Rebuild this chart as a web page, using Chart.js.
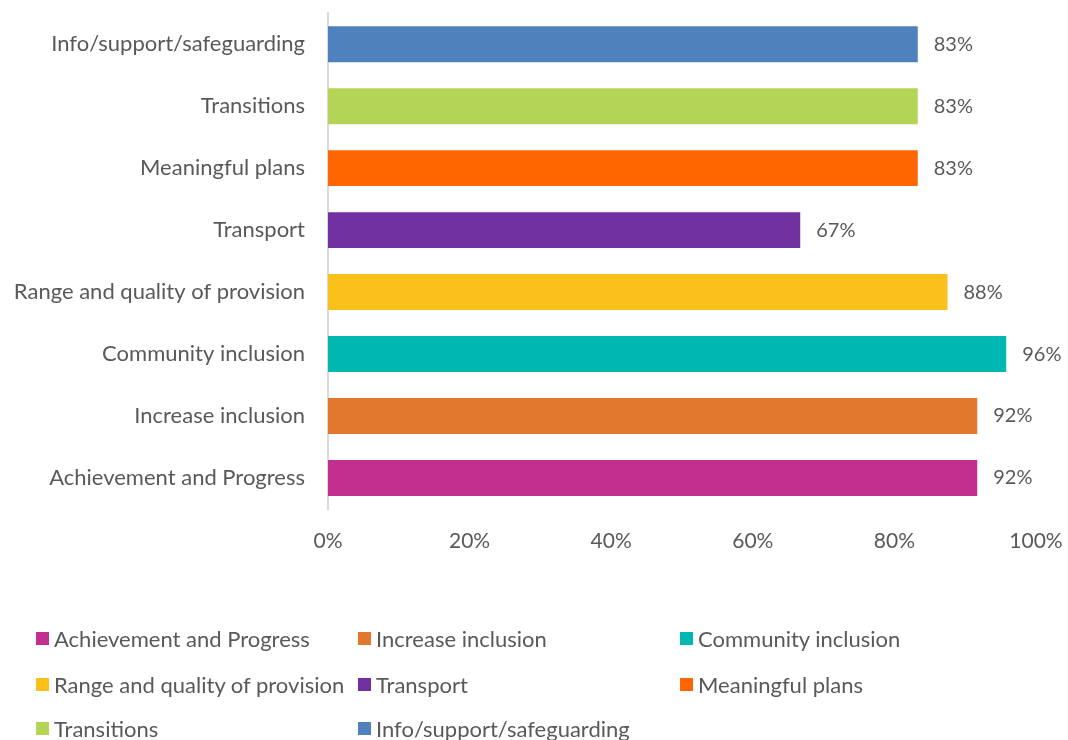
<!DOCTYPE html>
<html>
<head>
<meta charset="utf-8">
<script src="https://cdn.jsdelivr.net/npm/chart.js@4"></script>
<style>
  html, body { margin: 0; padding: 0; background: #fff; }
  #wrap { position: relative; width: 1068px; height: 740px; overflow: hidden; }
  #chartBox { position: absolute; left: 0; top: 0; width: 1068px; height: 570px; }
  #legend { position: absolute; left: 0; top: 0; width: 1068px; height: 740px; pointer-events: none;
            font-family: Lato, sans-serif; font-size: 22px; color: #595959; }
  .item { position: absolute; display: flex; align-items: center; white-space: nowrap; height: 26px; }
  .box { width: 13px; height: 13px; margin-right: 5px; }
</style>
</head>
<body>
<div id="wrap">
  <div id="chartBox"><canvas id="barChart"></canvas></div>
  <div id="legend"></div>
</div>
<script>
var categories = ["Achievement and Progress", "Increase inclusion", "Community inclusion",
    "Range and quality of provision", "Transport", "Meaningful plans", "Transitions",
    "Info/support/safeguarding"];
var values = [91.7, 91.7, 95.8, 87.5, 66.7, 83.3, 83.3, 83.3];
var colors = ["#c32f8f", "#e1782e", "#00b7b2", "#f8c018", "#7030a0", "#ff6600", "#b4d455", "#4f81bd"];
var xTicks = [0, 20, 40, 60, 80, 100];

var textColor = "#595959";
var font = "Lato";

var valueLabels = {
    id: "valueLabels",
    afterDatasetsDraw: function(chart) {
        var ctx = chart.ctx;
        var meta = chart.getDatasetMeta(0);
        ctx.save();
        ctx.font = "20px " + font;
        ctx.fillStyle = textColor;
        ctx.textAlign = "left";
        ctx.textBaseline = "middle";
        meta.data.forEach(function(bar, i) {
            ctx.fillText(Math.round(values[i]) + "%", bar.x + 16, bar.y);
        });
        ctx.restore();
    }
};

var ctx1 = document.getElementById("barChart").getContext("2d");
var myChart = new Chart(ctx1, {
    type: "bar",
    data: {
        labels: categories,
        datasets: [{
            data: values,
            backgroundColor: colors,
            borderWidth: 0,
            categoryPercentage: 1,
            barPercentage: 0.58
        }]
    },
    plugins: [valueLabels],
    options: {
        indexAxis: "y",
        responsive: true,
        maintainAspectRatio: false,
        animation: false,
        layout: { padding: { top: 12, right: 32, left: 0, bottom: 0 } },
        plugins: {
            legend: { display: false },
            tooltip: { enabled: false }
        },
        scales: {
            y: {
                reverse: true,
                afterFit: function(axis) { axis.width = 328; },
                // invisible tick marks give the label gap without adding edge padding
                grid: { display: false, drawTicks: true, tickLength: 23 },
                border: { display: true, color: "#d9d9d9", width: 2 },
                ticks: { color: textColor, padding: 0, font: { family: font, size: 22 } }
            },
            x: {
                min: 0,
                max: 100,
                afterBuildTicks: function(axis) {
                    axis.ticks = xTicks.map(function(v) { return { value: v }; });
                },
                afterFit: function(axis) { axis.height = 61; },
                grid: { display: false, drawTicks: true, tickLength: 20 },
                border: { display: false },
                ticks: {
                    color: textColor,
                    padding: 0,
                    maxRotation: 0,
                    font: { family: font, size: 21 },
                    callback: function(value) { return value + "%"; }
                }
            }
        }
    }
});

// legend laid out in a 3-column grid like the original
var legendCols = [36, 358, 680];
var legendRows = [638, 684, 728];
var legend = document.getElementById("legend");
categories.forEach(function(name, i) {
    var item = document.createElement("div");
    item.className = "item";
    item.style.left = legendCols[i % 3] + "px";
    item.style.top = (legendRows[Math.floor(i / 3)] - 13) + "px";
    var box = document.createElement("span");
    box.className = "box";
    box.style.background = colors[i];
    var label = document.createElement("span");
    label.textContent = name;
    item.appendChild(box);
    item.appendChild(label);
    legend.appendChild(item);
});
</script>
</body>
</html>
